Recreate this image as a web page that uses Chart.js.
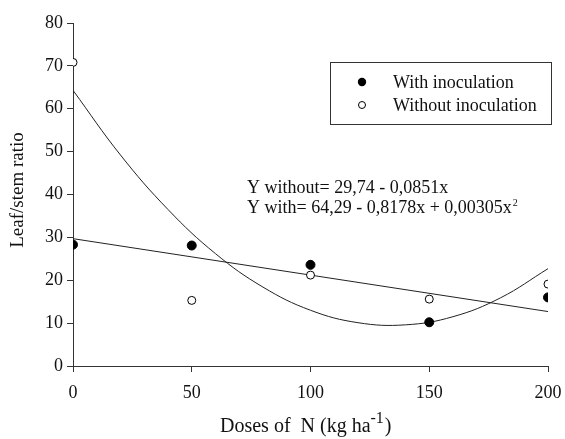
<!DOCTYPE html>
<html><head><meta charset="utf-8">
<script src="https://cdn.jsdelivr.net/npm/chart.js@4"></script>
<style>html,body{margin:0;padding:0;background:#fff}#wrap{width:565px;height:439px}</style>
</head><body><div id="wrap"><canvas id="c" width="565" height="439"></canvas></div>
<script>
const doses = [0, 50, 100, 150, 200];
const withInoc = [28.3, 28.1, 23.6, 10.2, 16.0];
const withoutInoc = [70.8, 15.3, 21.2, 15.6, 19.1];
const curveX = [0, 20, 40, 60, 80, 100, 120, 140, 160, 180, 200];
const curveWith = [64.3, 49.2, 36.5, 26.2, 18.4, 13.0, 10.1, 9.6, 11.5, 15.9, 22.7];
const lineX = [0, 200];
const lineWithout = [29.7, 12.7];
const xTicks = [0, 50, 100, 150, 200];
const yTicks = [0, 10, 20, 30, 40, 50, 60, 70, 80];
const seriesNames = ['With inoculation', 'Without inoculation'];
const eqWithout = 'Y without= 29,74 - 0,0851x';
const eqWith = 'Y with= 64,29 - 0,8178x + 0,00305x';

const serif = '"Liberation Serif", "DejaVu Serif", serif';
const pts = (xs, ys) => xs.map((x, i) => ({x, y: ys[i]}));

const extras = {
  id: 'extras',
  afterDraw(chart) {
    const ctx = chart.ctx;
    ctx.save();
    ctx.fillStyle = '#111';
    // Y title
    ctx.font = '19px ' + serif;
    ctx.textAlign = 'center'; ctx.textBaseline = 'middle';
    ctx.save();
    ctx.translate(18, 190);
    ctx.rotate(-Math.PI / 2);
    ctx.fillText('Leaf/stem ratio', 0, 0);
    ctx.restore();
    // X title with superscript
    ctx.textAlign = 'left'; ctx.textBaseline = 'alphabetic';
    const p1 = 'Doses of  N (kg ha', sup = '-1', p2 = ')';
    ctx.font = '20px ' + serif; const w1 = ctx.measureText(p1).width;
    ctx.font = '16px ' + serif; const ws = ctx.measureText(sup).width;
    const sx = 220, by = 432;
    ctx.font = '20px ' + serif; ctx.fillText(p1, sx, by);
    ctx.font = '16px ' + serif; ctx.fillText(sup, sx + w1, by - 9);
    ctx.font = '20px ' + serif; ctx.fillText(p2, sx + w1 + ws + 1, by);
    // Equations
    ctx.font = '18px ' + serif;
    ctx.fillText(eqWithout, 247, 193);
    ctx.fillText(eqWith, 247, 213);
    const we = ctx.measureText(eqWith).width;
    ctx.font = '10px ' + serif; ctx.fillText('2', 247 + we + 1, 206);
    // Legend box
    ctx.strokeStyle = '#333'; ctx.lineWidth = 1;
    ctx.strokeRect(330.5, 62.5, 221, 62);
    ctx.font = '18px ' + serif; ctx.textBaseline = 'middle';
    ctx.beginPath(); ctx.arc(362, 82, 4.2, 0, Math.PI * 2); ctx.fillStyle = '#000'; ctx.fill();
    ctx.beginPath(); ctx.arc(362, 105, 3.5, 0, Math.PI * 2); ctx.fillStyle = '#fff'; ctx.fill(); ctx.strokeStyle = '#000'; ctx.stroke();
    ctx.fillStyle = '#111';
    ctx.fillText(seriesNames[0], 393, 83);
    ctx.fillText(seriesNames[1], 393, 106);
    ctx.restore();
  }
};

new Chart(document.getElementById('c'), {
  type: 'scatter',
  data: {
    datasets: [
      {label: 'fitWith', data: pts(curveX, curveWith), showLine: true, borderColor: '#222', borderWidth: 1, pointRadius: 0, tension: 0.4, fill: false, order: 3},
      {label: 'fitWithout', data: pts(lineX, lineWithout), showLine: true, borderColor: '#222', borderWidth: 1, pointRadius: 0, fill: false, order: 3},
      {label: seriesNames[0], data: pts(doses, withInoc), pointRadius: 4.5, backgroundColor: '#000', borderColor: '#000', borderWidth: 1, order: 1},
      {label: seriesNames[1], data: pts(doses, withoutInoc), pointRadius: 4, backgroundColor: '#fff', borderColor: '#000', borderWidth: 1, order: 1}
    ]
  },
  options: {
    responsive: false, animation: false,
    layout: {padding: {top: 23, right: 17, left: 0, bottom: 0}},
    plugins: {legend: {display: false}, tooltip: {enabled: false}},
    scales: {
      x: {
        type: 'linear', min: 0, max: 200,
        afterBuildTicks: s => { s.ticks = xTicks.map(v => ({value: v})); },
        afterFit: s => { s.height = 73; s.paddingRight = 0; s.paddingLeft = 0; },
        grid: {drawOnChartArea: false, drawTicks: true, tickLength: 6, color: '#333'},
        border: {display: true, color: '#333', width: 1},
        ticks: {color: '#111', font: {family: serif, size: 18}, padding: 10, maxRotation: 0}
      },
      y: {
        type: 'linear', min: 0, max: 80,
        afterBuildTicks: s => { s.ticks = yTicks.map(v => ({value: v})); },
        afterFit: s => { s.width = 73; s.paddingTop = 0; s.paddingBottom = 0; },
        grid: {drawOnChartArea: false, drawTicks: true, tickLength: 6, color: '#333'},
        border: {display: true, color: '#333', width: 1},
        ticks: {color: '#111', font: {family: serif, size: 18}, padding: 4}
      }
    }
  },
  plugins: [extras]
});
</script></body></html>
